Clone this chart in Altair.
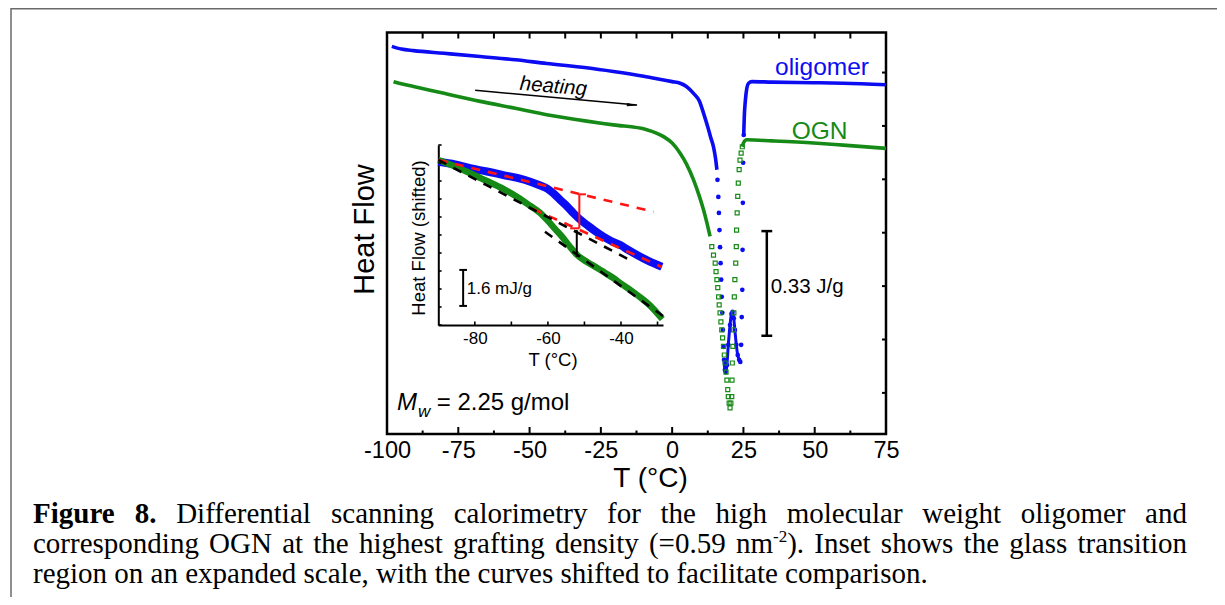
import altair as alt
import pandas as pd

# ---------------- data ----------------
# Main panel: temperature (deg C) vs heat flow (arbitrary units; 1 unit = one right-hand tick)
OLIG_T_A = [-98.3, -95, -90.7, -80, -67.3, -55, -44, -30, -20.6, -10, -3, 0, 2.8, 5, 7.5, 9.5, 11, 12.5, 13.5, 14.5, 15.2, 15.7]
OLIG_HF_A = [6.49, 6.44, 6.41, 6.36, 6.30, 6.24, 6.17, 6.09, 6.02, 5.93, 5.86, 5.83, 5.80, 5.74, 5.61, 5.47, 5.24, 4.98, 4.79, 4.61, 4.40, 4.18]
OLIG_T_DIP = [15.9, 16.2, 16.4, 16.6, 16.8, 17.0, 17.2, 17.4, 17.6, 17.8, 18.0, 18.2, 18.5, 18.8, 19.2, 19.7, 20.3, 20.8, 21.2, 21.6, 22.0, 22.5, 23.0, 23.5, 23.9, 24.2, 24.4, 24.6, 24.7, 24.8, 24.9, 25.1]
OLIG_HF_DIP = [3.99, 3.67, 3.37, 3.05, 2.73, 2.43, 2.12, 1.80, 1.50, 1.18, 0.86, 0.62, 0.43, 0.39, 0.52, 0.90, 1.27, 1.48, 1.52, 1.40, 1.18, 0.90, 0.71, 0.62, 0.58, 0.90, 1.42, 1.93, 2.68, 3.56, 4.31, 4.83]
OLIG_T_B = [25.1, 25.3, 25.7, 26.2, 26.8, 28, 35, 49.5, 60, 75]
OLIG_HF_B = [4.83, 5.17, 5.49, 5.71, 5.80, 5.83, 5.82, 5.81, 5.80, 5.77]

OGN_T_A = [-97.7, -95, -90.7, -80, -67.3, -55, -44, -30, -20.6, -8.9, -3, 0, 2.8, 5, 7.5, 9.5, 11, 12.3, 13.3]
OGN_HF_A = [5.83, 5.79, 5.74, 5.61, 5.46, 5.33, 5.21, 5.09, 5.02, 4.93, 4.80, 4.68, 4.49, 4.29, 3.99, 3.69, 3.43, 3.16, 2.93]
OGN_T_DIP = [13.9, 14.5, 15.1, 15.4, 15.7, 16.0, 16.3, 16.5, 16.8, 17.1, 17.4, 17.7, 18.0, 18.3, 18.6, 18.9, 19.2, 19.5, 19.7, 20.0, 20.3, 20.6, 20.9, 21.0, 21.1, 21.3, 21.5, 21.65, 21.8, 22.0, 22.3, 22.5, 22.6, 22.8, 23.0, 23.2, 23.5, 23.8, 24.2, 24.6]
OGN_HF_DIP = [2.74, 2.58, 2.43, 2.27, 2.12, 1.97, 1.80, 1.65, 1.50, 1.33, 1.18, 1.03, 0.87, 0.71, 0.56, 0.39, 0.24, 0.06, -0.07, -0.19, -0.28, -0.19, -0.07, 0.24, 0.56, 0.87, 1.18, 1.50, 1.80, 2.12, 2.43, 2.74, 3.05, 3.37, 3.68, 3.93, 4.18, 4.36, 4.49, 4.61]
OGN_T_B = [24.6, 25.0, 26.2, 35, 49.6, 60, 75]
OGN_HF_B = [4.61, 4.68, 4.74, 4.72, 4.68, 4.64, 4.58]

# Inset: glass-transition region (shifted curves, 1 unit = 0.8 mJ/g)
INS_OLIG_T = [-90.0, -85.4, -81.3, -76.7, -72.2, -68.4, -64.8, -62.1, -60.3, -58.6, -56.6, -54.7, -53.0, -51.2, -49.3, -47.1, -44.8, -42.7, -40.2, -38.0, -35.6, -32.5, -28.8]
INS_OLIG_HF = [9.07, 8.92, 8.71, 8.53, 8.33, 8.17, 7.96, 7.75, 7.59, 7.33, 6.94, 6.58, 6.21, 5.86, 5.56, 5.22, 4.91, 4.67, 4.44, 4.17, 3.89, 3.56, 3.24]
INS_OGN_T = [-90.0, -85.4, -81.3, -76.7, -72.2, -68.4, -64.8, -62.1, -60.2, -58.0, -55.8, -53.9, -52.0, -49.3, -46.5, -44.3, -42.1, -39.9, -37.4, -35.2, -32.8, -30.6, -28.7]
INS_OGN_HF = [9.17, 8.81, 8.43, 8.00, 7.56, 7.11, 6.61, 6.22, 5.83, 5.33, 4.83, 4.33, 3.89, 3.50, 3.17, 2.89, 2.61, 2.28, 1.94, 1.61, 1.22, 0.78, 0.33]

# tangent (fit) lines in the inset: [T_start, T_end], [HF_start, HF_end]
RED_FITS = [([-90.0, -31.1], [9.17, 6.29]), ([-64.0, -28.8], [6.44, 3.22])]
BLACK_FITS = [([-90.0, -36.6], [9.17, 3.51]), ([-60.8, -27.0], [5.18, 0.28])]
# step markers (segments): x, x2, y, y2
RED_STEP = [(-51.4, -51.4, 5.37, 7.26), (-51.4, -49.6, 7.26, 7.26), (-53.9, -51.4, 5.37, 5.37)]
BLACK_STEP = [(-52.1, -52.1, 3.79, 5.28)]

# scale bars
MAIN_BAR = dict(t=33.2, half=1.9, lo=1.07, hi=3.03, label="0.33 J/g")
INSET_BAR = dict(t=-83.2, half=1.05, lo=1.06, hi=3.06, label="1.6 mJ/g")

# heating arrow
ARROW_T = [-69.1, -12.3]
ARROW_HF = [5.67, 5.39]

# ticks
MAIN_X_MAJOR = [-100, -75, -50, -25, 0, 25, 50, 75]
MAIN_X_MINOR = [-87.5, -62.5, -37.5, -12.5, 12.5, 37.5, 62.5]
MAIN_Y_TICKS = [0, 1, 2, 3, 4, 5, 6]
INS_X_LABELS = [-80, -60, -40]
INS_X_TICKS = [-80, -70, -60, -50, -40, -30]
INS_Y_TICKS = [0, 1, 2, 3, 4, 5, 6, 7, 8, 9, 10]

# caption
CAP_LINE1 = [[("Figure", "b")], [("8.", "b")], [("Differential", "r")], [("scanning", "r")],
             [("calorimetry", "r")], [("for", "r")], [("the", "r")], [("high", "r")],
             [("molecular", "r")], [("weight", "r")], [("oligomer", "r")], [("and", "r")]]
CAP_LINE2 = [[("corresponding", "r")], [("OGN", "r")], [("at", "r")], [("the", "r")],
             [("highest", "r")], [("grafting", "r")], [("density", "r")], [("(=0.59", "r")],
             [("nm", "r"), ("-2", "sup"), (").", "r")], [("Inset", "r")], [("shows", "r")],
             [("the", "r")], [("glass", "r")], [("transition", "r")]]
CAP_LINE3 = "region on an expanded scale, with the curves shifted to facilitate comparison."

# ---------------- styling ----------------
BLUE = "#0c0cf2"
GREEN = "#168a16"
RED = "#ff1414"
SANS = "Liberation Sans, Arial, sans-serif"
SERIF = "Liberation Serif, Times New Roman, serif"
W, H = 1209, 589

XM = alt.Scale(domain=[-100, 75], range=[379, 878], nice=False, zero=False)
YM = alt.Scale(domain=[-0.77, 6.75], range=[426, 24.5], nice=False, zero=False)
XI = alt.Scale(domain=[-90, -28.5], range=[430.3, 655], nice=False, zero=False)
YI = alt.Scale(domain=[0, 10], range=[317, 137], nice=False, zero=False)


def xq(field, scale, axis=None):
    return alt.X(field, type="quantitative", scale=scale, axis=axis)


def yq(field, scale, axis=None):
    return alt.Y(field, type="quantitative", scale=scale, axis=axis)


def line(ts, hs, xs, ys, color, width, dash=None, axes=(None, None)):
    df = pd.DataFrame({"T": ts, "HF": hs})
    kw = dict(color=color, strokeWidth=width, strokeCap="butt", interpolate="monotone")
    if dash:
        kw["strokeDash"] = dash
        kw["interpolate"] = "linear"
    return alt.Chart(df).mark_line(**kw).encode(
        x=xq("T", xs, axes[0]), y=yq("HF", ys, axes[1]))


def segs(rows, xs, ys, color, width):
    df = pd.DataFrame(rows, columns=["x", "x2", "y", "y2"])
    return alt.Chart(df).mark_rule(color=color, strokeWidth=width).encode(
        x=xq("x", xs), x2="x2", y=yq("y", ys), y2="y2")


def ticks_x(vals, scale, y0, y1, width):
    return alt.Chart(pd.DataFrame({"v": vals})).mark_rule(color="black", strokeWidth=width).encode(
        x=xq("v", scale), y=alt.value(y0), y2=alt.value(y1))


def ticks_y(vals, scale, x0, x1, width):
    return alt.Chart(pd.DataFrame({"v": vals})).mark_rule(color="black", strokeWidth=width).encode(
        y=yq("v", scale), x=alt.value(x0), x2=alt.value(x1))


def text(s, x, y, size, color="black", align="left", baseline="alphabetic",
         style="normal", angle=0, font=SANS, weight="normal"):
    kw = dict(align=align, baseline=baseline, fontSize=size, color=color,
              font=font, fontStyle=style, fontWeight=weight)
    if angle:
        kw["angle"] = angle
    return alt.Chart(pd.DataFrame({"t": [s]})).mark_text(**kw).encode(
        x=alt.value(x), y=alt.value(y), text="t:N")


layers = []

# figure box border (document frame)
layers.append(alt.Chart(pd.DataFrame({"a": [0]})).mark_rule(color="#6a6a6a", strokeWidth=1.5).encode(
    x=alt.value(3), x2=alt.value(W), y=alt.value(0.8)))
layers.append(alt.Chart(pd.DataFrame({"a": [0]})).mark_rule(color="#6a6a6a", strokeWidth=1.5).encode(
    x=alt.value(3), y=alt.value(0), y2=alt.value(H)))

# main frame with axes
main_x_axis = alt.Axis(orient="bottom", offset=426 - H, values=MAIN_X_MAJOR, labelExpr="'' + datum.value",
                       labelFont=SANS, labelFontSize=23.5, labelColor="black", labelPadding=4,
                       labelFlush=False, labelOverlap=False, domain=False, ticks=False, tickSize=0,
                       grid=False, title="T (°C)", titleFont=SANS, titleFontSize=28,
                       titleFontWeight="normal", titleColor="black", titleX=642, titleY=52,
                       titleAlign="center", titleBaseline="alphabetic")
main_y_axis = alt.Axis(orient="left", offset=-379, labels=False, domain=False, ticks=False, tickSize=0,
                       grid=False, title="Heat Flow", titleFont=SANS, titleFontSize=29,
                       titleFontWeight="normal", titleColor="black", titleAngle=270,
                       titleX=-22.8, titleY=221, titleAlign="center", titleBaseline="middle")
frame_df = pd.DataFrame({"x0": [-100], "x1": [75], "y0": [-0.77], "y1": [6.75]})
layers.append(alt.Chart(frame_df).mark_rect(fillOpacity=0, stroke="black", strokeWidth=2.5).encode(
    x=xq("x0", XM, main_x_axis), x2="x1", y=yq("y0", YM, main_y_axis), y2="y1"))

# main ticks (inward)
layers.append(ticks_x(MAIN_X_MAJOR, XM, 426, 419, 2))
layers.append(ticks_x(MAIN_X_MINOR, XM, 426, 422.5, 2))
layers.append(ticks_x(MAIN_X_MAJOR + MAIN_X_MINOR, XM, 24.5, 30.5, 2))
layers.append(ticks_y(MAIN_Y_TICKS, YM, 878, 874, 2))

# main curves
layers.append(line(OLIG_T_A, OLIG_HF_A, XM, YM, BLUE, 3.6))
layers.append(line(OLIG_T_B, OLIG_HF_B, XM, YM, BLUE, 3.6))
loop = [(t, h) for t, h in zip(OLIG_T_DIP, OLIG_HF_DIP) if 18.2 <= t <= 23.9]
layers.append(line([a for a, b in loop], [b for a, b in loop], XM, YM, BLUE, 3))
layers.append(alt.Chart(pd.DataFrame({"T": OLIG_T_DIP, "HF": OLIG_HF_DIP})).mark_point(
    shape="circle", filled=True, size=22, color=BLUE, opacity=1).encode(
    x=xq("T", XM), y=yq("HF", YM)))
layers.append(line(OGN_T_A, OGN_HF_A, XM, YM, GREEN, 3.6))
layers.append(line(OGN_T_B, OGN_HF_B, XM, YM, GREEN, 3.6))
layers.append(alt.Chart(pd.DataFrame({"T": OGN_T_DIP, "HF": OGN_HF_DIP})).mark_point(
    shape="square", filled=False, size=16, strokeWidth=1.2, color=GREEN, opacity=1).encode(
    x=xq("T", XM), y=yq("HF", YM)))

# main scale bar
b = MAIN_BAR
layers.append(segs([(b["t"], b["t"], b["lo"], b["hi"]),
                    (b["t"] - b["half"], b["t"] + b["half"], b["lo"], b["lo"]),
                    (b["t"] - b["half"], b["t"] + b["half"], b["hi"], b["hi"])], XM, YM, "black", 2.5))

# heating arrow
arrow_df = pd.DataFrame({"x": [ARROW_T[0]], "x2": [ARROW_T[1]], "y": [ARROW_HF[0]], "y2": [ARROW_HF[1]]})
layers.append(alt.Chart(arrow_df).mark_rule(color="black", strokeWidth=1.5).encode(
    x=xq("x", XM), x2="x2", y=yq("y", YM), y2="y2"))
layers.append(alt.Chart(pd.DataFrame({"T": [ARROW_T[1]], "HF": [ARROW_HF[1]]})).mark_point(
    shape="M-1,-0.32L1,0L-1,0.32Z", filled=True, size=110, color="black", opacity=1,
    angle=5, xOffset=-5).encode(x=xq("T", XM), y=yq("HF", YM)))

# ---------------- inset ----------------
ins_x_axis = alt.Axis(orient="bottom", offset=317 - H, values=INS_X_LABELS, labelExpr="'' + datum.value",
                      labelFont=SANS, labelFontSize=17, labelColor="black", labelPadding=5,
                      labelFlush=False, labelOverlap=False, domain=True, domainColor="black",
                      domainWidth=2, ticks=False, tickSize=0, grid=False, title="T (°C)",
                      titleFont=SANS, titleFontSize=18.5, titleFontWeight="normal", titleColor="black",
                      titleX=544.5, titleY=40, titleAlign="center", titleBaseline="alphabetic")
ins_y_axis = alt.Axis(orient="left", offset=-430.3, labels=False, domain=True, domainColor="black",
                      domainWidth=2, ticks=False, tickSize=0, grid=False, title="Heat Flow (shifted)",
                      titleFont=SANS, titleFontSize=18.5, titleFontWeight="normal", titleColor="black",
                      titleAngle=270, titleX=-19.6, titleY=229.5, titleAlign="center",
                      titleBaseline="middle")
layers.append(line(INS_OLIG_T, INS_OLIG_HF, XI, YI, BLUE, 8, axes=(ins_x_axis, ins_y_axis)))
layers.append(line(INS_OGN_T, INS_OGN_HF, XI, YI, GREEN, 6.5))
for ts, hs in RED_FITS:
    layers.append(line(ts, hs, XI, YI, RED, 2.6, dash=[9, 8]))
for ts, hs in BLACK_FITS:
    layers.append(line(ts, hs, XI, YI, "black", 2.6, dash=[9, 8]))
layers.append(segs(RED_STEP, XI, YI, RED, 2))
layers.append(segs(BLACK_STEP, XI, YI, "black", 2))
layers.append(ticks_x(INS_X_TICKS, XI, 317, 313.5, 1.6))
layers.append(ticks_y(INS_Y_TICKS, YI, 430.3, 433.6, 1.6))
b = INSET_BAR
layers.append(segs([(b["t"], b["t"], b["lo"], b["hi"]),
                    (b["t"] - b["half"], b["t"] + b["half"], b["lo"], b["lo"]),
                    (b["t"] - b["half"], b["t"] + b["half"], b["hi"], b["hi"])], XI, YI, "black", 2))

# ---------------- annotations ----------------
layers.append(text("oligomer", 767, 67, 24.5, color=BLUE))
layers.append(text("OGN", 783.7, 131.3, 24.5, color=GREEN))
layers.append(text("heating", 545.3, 78.7, 20.5, align="center", baseline="middle", style="italic", angle=5))
layers.append(text(MAIN_BAR["label"], 762.7, 278.7, 20.5, baseline="middle"))
layers.append(text(INSET_BAR["label"], 458.7, 281.3, 17, baseline="middle"))
layers.append(text("M", 389, 402, 24, style="italic"))
layers.append(text("w", 410, 409, 17, style="italic"))
layers.append(text("= 2.25 g/mol", 428.7, 402, 24))

# ---------------- caption (justified lines) ----------------
TNR = {" ": 250, "(": 333, ")": 333, ".": 250, ",": 250, "=": 564, "-": 333,
       "a": 444, "b": 500, "c": 444, "d": 500, "e": 444, "f": 333, "g": 500, "h": 500, "i": 278,
       "j": 278, "k": 500, "l": 278, "m": 778, "n": 500, "o": 500, "p": 500, "q": 500, "r": 333,
       "s": 389, "t": 278, "u": 500, "v": 500, "w": 722, "x": 500, "y": 500, "z": 444,
       "D": 722, "F": 556, "G": 722, "I": 333, "N": 722, "O": 722}
TNR_B = {"F": 611, "i": 278, "g": 500, "u": 556, "r": 444, "e": 444, ".": 250}
CAP_SIZE = 29
SUP_SIZE = 17


def tw(s, kind):
    tbl = TNR_B if kind == "b" else TNR
    size = SUP_SIZE if kind == "sup" else CAP_SIZE
    return sum(tbl.get(c, 500) for c in s) * size / 1000.0


def justify(groups, x0, x1, y):
    gw = [sum(tw(s, k) for s, k in g) for g in groups]
    gap = (x1 - x0 - sum(gw)) / (len(groups) - 1)
    rows, x = [], x0
    for g, w in zip(groups, gw):
        xx = x
        for s, k in g:
            rows.append({"t": s, "x": xx, "y": y - (11 if k == "sup" else 0), "k": k})
            xx += tw(s, k)
        x += w + gap
    return rows


cap_rows = justify(CAP_LINE1, 25, 1179, 515.3) + justify(CAP_LINE2, 25, 1179, 545.3)
cap_rows.append({"t": CAP_LINE3, "x": 25, "y": 575.3, "k": "r"})
cap_df = pd.DataFrame(cap_rows)
for kind, size, weight in [("r", CAP_SIZE, "normal"), ("b", CAP_SIZE, "bold"), ("sup", SUP_SIZE, "normal")]:
    sub = cap_df[cap_df["k"] == kind]
    layers.append(alt.Chart(sub).mark_text(align="left", baseline="alphabetic", font=SERIF,
                                           fontSize=size, fontWeight=weight, color="black").encode(
        x=alt.X("x:Q", scale=None), y=alt.Y("y:Q", scale=None), text="t:N"))

chart = alt.layer(*layers).resolve_scale(x="independent", y="independent").properties(
    width=W, height=H, autosize=alt.AutoSizeParams(type="none"), padding=0
).configure_view(strokeWidth=0)

chart.save("out.html", embed_options={"renderer": "svg", "actions": False})
